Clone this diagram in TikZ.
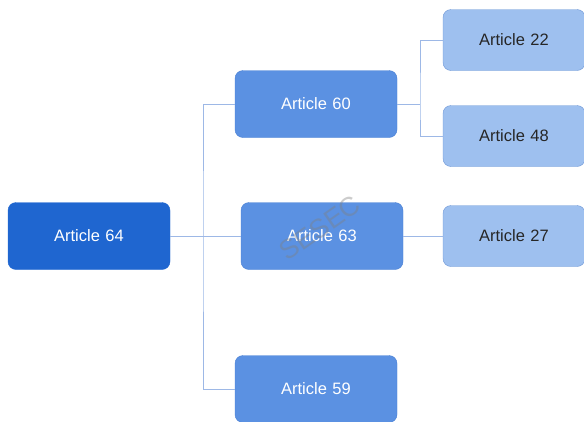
\documentclass[tikz,border=0pt]{standalone}
\usepackage{fontspec}
\setmainfont{Liberation Sans}
\definecolor{dark}{HTML}{1F66D0}
\definecolor{mid}{HTML}{5B91E2}
\definecolor{midb}{HTML}{4A80D4}
\definecolor{light}{HTML}{9EC0EF}
\definecolor{lightb}{HTML}{6E97D6}
\definecolor{wire}{HTML}{9DB8E6}
\begin{document}
\begin{tikzpicture}[x=1pt,y=-1pt,
  box/.style={rounded corners=8pt, minimum height=67pt, text width=162pt, align=center, font=\fontsize{16.5}{19}\selectfont, inner sep=0pt},
  topbox/.style={box, fill=dark, draw=dark, text=white},
  midbox/.style={box, fill=mid, draw=midb, text=white},
  leafbox/.style={box, fill=light, draw=lightb, text=black!85, text width=142pt, minimum height=61pt},
  wire/.style={draw=wire, line width=1pt}]
\useasboundingbox (0,0) rectangle (584,421);
\node[topbox] (a64) at (89,236) {Article 64};
\node[midbox] (a60) at (316,104) {Article 60};
\node[midbox] (a63) at (322,236) {Article 63};
\node[midbox] (a59) at (316,389) {Article 59};
\node[leafbox] (a22) at (514,40) {Article 22};
\node[leafbox] (a48) at (514,136) {Article 48};
\node[leafbox] (a27) at (514,236) {Article 27};
\coordinate (t1) at (203,236);
\coordinate (t2) at (420,104);
\draw[wire] (a64.east) -- (a63.west);
\draw[wire] (a60.west) -| (t1) |- (a59.west);
\draw[wire] (a60.east) -- (t2);
\draw[wire] (a22.west) -| (t2) |- (a48.west);
\draw[wire] (a63.east) -- (a27.west);
\node[rotate=35, text=gray, opacity=0.4, font=\fontsize{27}{30}\selectfont] (wm) at (320,228) {SESEC};
\end{tikzpicture}
\end{document}
